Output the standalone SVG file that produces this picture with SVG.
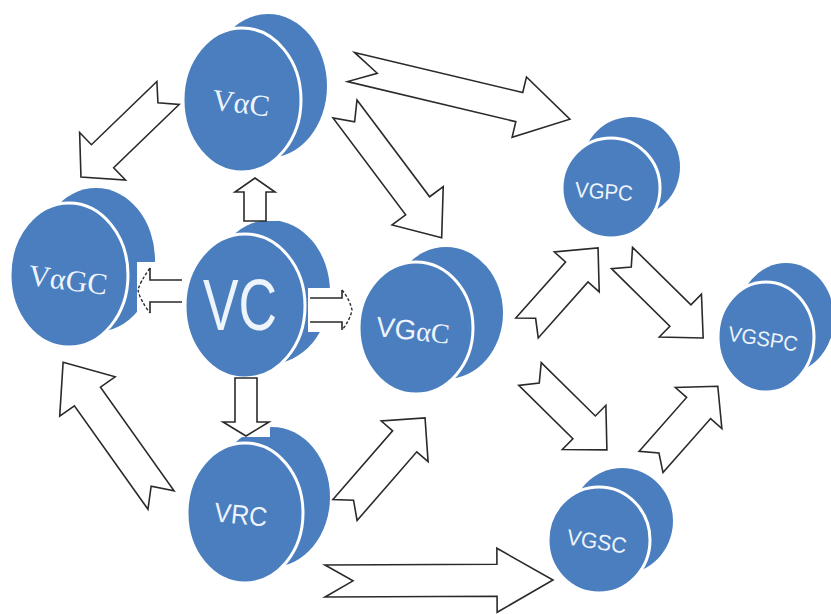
<svg xmlns="http://www.w3.org/2000/svg" width="831" height="614" viewBox="0 0 831 614">
<style>
.bk{fill:#4a7ebf}
.fr{fill:#4a7ebf;stroke:#fff;stroke-width:3}
.lbl{fill:#eef4fc;font-family:"Liberation Sans",Arial,sans-serif;text-anchor:middle}
.ser{font-family:"Liberation Serif","Times New Roman",serif}
.arr{fill:#fff;stroke:#2a2a2a;stroke-width:1.6;stroke-linejoin:miter}
.sh{fill:none;stroke:#2a2a2a;stroke-width:1.6}
.dh{fill:none;stroke:#2a2a2a;stroke-width:1.4;stroke-dasharray:3 2}
.box{fill:#fff}
</style>
<rect width="831" height="614" fill="#fff"/>
<g id="VaC">
<ellipse class="bk" cx="268" cy="86" rx="59" ry="72"/>
<ellipse class="fr" cx="242" cy="100" rx="59" ry="72"/>
<text class="lbl ser" x="241" y="113" font-size="30" transform="rotate(7 241 103)">VαC</text>
</g>
<g id="VaGC">
<ellipse class="bk" cx="96" cy="260" rx="59" ry="72"/>
<ellipse class="fr" cx="69" cy="275" rx="59" ry="72"/>
<text class="lbl ser" x="68" y="290" font-size="30" transform="rotate(7 68 280)">VαGC</text>
</g>
<g id="VC">
<ellipse class="bk" cx="270" cy="292" rx="60" ry="72"/>
<ellipse class="fr" cx="245" cy="306" rx="60" ry="72"/>
<text class="lbl" x="240" y="330" font-size="72" textLength="74" lengthAdjust="spacingAndGlyphs">VC</text>
</g>
<g id="VGaC">
<ellipse class="bk" cx="446" cy="313" rx="57" ry="66"/>
<ellipse class="fr" cx="416" cy="328" rx="57" ry="66"/>
<text class="lbl" x="413" y="340" font-size="28" transform="rotate(6 413 330)">VG<tspan class="ser">αC</tspan></text>
</g>
<g id="VGPC">
<ellipse class="bk" cx="631" cy="167" rx="49" ry="50"/>
<ellipse class="fr" cx="611" cy="188" rx="49" ry="50"/>
<text class="lbl" x="604" y="199" font-size="22" textLength="58" lengthAdjust="spacingAndGlyphs" transform="rotate(4 604 191)">VGPC</text>
</g>
<g id="VGSPC">
<ellipse class="bk" cx="786" cy="318" rx="48" ry="55"/>
<ellipse class="fr" cx="766" cy="337" rx="48" ry="55"/>
<text class="lbl" x="763" y="346" font-size="21" textLength="70" lengthAdjust="spacingAndGlyphs" transform="rotate(9 763 339)">VGSPC</text>
</g>
<g id="VRC">
<ellipse class="bk" cx="272" cy="497" rx="58" ry="70"/>
<ellipse class="fr" cx="245" cy="513" rx="58" ry="70"/>
<text class="lbl" x="241" y="524" font-size="27" textLength="53" lengthAdjust="spacingAndGlyphs" transform="rotate(6 241 514)">VRC</text>
</g>
<g id="VGSC">
<ellipse class="bk" cx="622" cy="521" rx="51" ry="53"/>
<ellipse class="fr" cx="599" cy="540" rx="51" ry="53"/>
<text class="lbl" x="597" y="549" font-size="22" textLength="60" lengthAdjust="spacingAndGlyphs" transform="rotate(9 597 541)">VGSC</text>
</g>
<g id="connectors">
<!-- VaC -> VaGC -->
<polygon class="arr" transform="translate(168 93) rotate(136)" points="0,-16 91,-16 91,-33 121,0 91,33 91,16 0,16 14,0"/>
<!-- VaC -> VGPC -->
<polygon class="arr" transform="translate(351 67) rotate(13.4)" points="0,-15 173,-15 173,-31 225,0 173,31 173,15 0,15 27,0"/>
<!-- VaC -> VGaC -->
<polygon class="arr" transform="translate(345 109) rotate(53.1)" points="0,-15 121,-15 121,-32 161,0 121,32 121,15 0,15 16,0"/>
<!-- VRC -> VaGC -->
<polygon class="arr" transform="translate(161 500) rotate(-125.4)" points="0,-16 127,-16 127,-34 169,0 127,34 127,16 0,16 17,0"/>
<!-- VRC -> VGaC -->
<polygon class="arr" transform="translate(345 510) rotate(-49)" points="0,-16 91,-16 91,-31 122,0 91,31 91,16 0,16 13,0"/>
<!-- VRC -> VGSC -->
<polygon class="arr" transform="translate(325 581) rotate(-0.25)" points="0,-16 172,-16 172,-32 228,0 172,32 172,16 0,16 28,0"/>
<!-- VGaC -> VGPC -->
<polygon class="arr" transform="translate(527 328) rotate(-48.4)" points="0,-15 75,-15 75,-30 107,0 75,30 75,15 0,15 13,0"/>
<!-- VGPC -> VGSPC -->
<polygon class="arr" transform="translate(622 258) rotate(44.6)" points="0,-15 82,-15 82,-30 114,0 82,30 82,15 0,15 13,0"/>
<!-- VGaC -> VGSC -->
<polygon class="arr" transform="translate(530 374) rotate(44.6)" points="0,-16 76,-16 76,-31 108,0 76,31 76,16 0,16 13,0"/>
<!-- VGSC -> VGSPC -->
<polygon class="arr" transform="translate(651 462) rotate(-48.6)" points="0,-16 72,-16 72,-31 101,0 72,31 72,16 0,16 12,0"/>
<!-- VC -> VaC (up) -->
<rect class="box" x="233" y="177" width="45" height="44"/>
<polygon class="arr" points="244,221 244,192 235,192 255,178 275,192 266,192 266,221"/>
<!-- VC -> VaGC (left) -->
<rect class="box" x="137" y="262" width="46" height="56"/>
<polygon fill="#fff" points="182,280 150,280 150,268 138,290 150,313 150,302 182,302"/>
<path class="sh" d="M150,268 L150,280 L182,280 M182,302 L150,302 L150,313"/>
<path class="dh" d="M150,268 Q140,282 138,290 Q140,300 150,313"/>
<!-- VC -> VGaC (right) -->
<rect class="box" x="308" y="288" width="47" height="44"/>
<polygon fill="#fff" points="310,298 342,298 342,290 352,310 342,330 342,322 310,322"/>
<path class="sh" d="M310,298 L342,298 L342,290 M342,330 L342,322 L310,322"/>
<path class="dh" d="M342,290 Q350,300 352,310 Q350,320 342,330"/>
<!-- VC -> VRC (down) -->
<rect class="box" x="222" y="378" width="48" height="59"/>
<polygon class="arr" points="235,378 257,378 257,422 269,422 246,436 223,422 235,422"/>
</g>
</svg>
